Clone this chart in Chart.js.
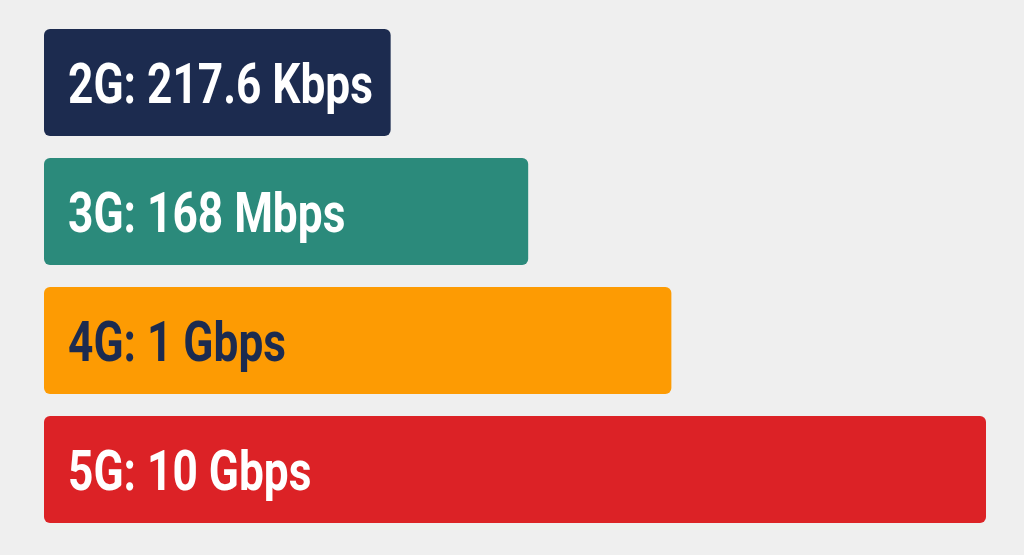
<!DOCTYPE html>
<html>
<head>
<meta charset="utf-8">
<script src="https://cdn.jsdelivr.net/npm/chart.js@4"></script>
<style>
  html, body { margin: 0; padding: 0; background: #efefef; }
  #wrap { width: 1024px; height: 555px; }
</style>
</head>
<body>
<div id="wrap"><canvas id="chart"></canvas></div>
<script>
// generations and their peak speed labels
const generations = ['2G', '3G', '4G', '5G'];
const speedLabels = ['217.6 Kbps', '168 Mbps', '1 Gbps', '10 Gbps'];
// bar length as drawn, relative to the 5G bar (= 100)
const barLengths = [36.8, 51.4, 66.6, 100];
const barColors = ['#1c2b4f', '#2b8a7b', '#fd9b03', '#dc2226'];
const textColors = ['#ffffff', '#ffffff', '#1c2b4f', '#ffffff'];

// writes "2G: 217.6 Kbps" inside each bar, narrow bold look
const insideLabels = {
  id: 'insideLabels',
  afterDatasetsDraw(chart) {
    const ctx = chart.ctx;
    const meta = chart.getDatasetMeta(0);
    meta.data.forEach((bar, i) => {
      const txt = generations[i] + ': ' + speedLabels[i];
      ctx.save();
      ctx.font = 'bold 56px Roboto';
      ctx.fillStyle = textColors[i];
      ctx.textBaseline = 'alphabetic';
      ctx.translate(bar.base + 24, bar.y + 20);
      ctx.scale(0.79, 1);
      ctx.fillText(txt, 0, 0);
      ctx.restore();
    });
  }
};

new Chart(document.getElementById('chart'), {
  type: 'bar',
  data: {
    labels: generations,
    datasets: [{
      data: barLengths,
      backgroundColor: barColors,
      borderRadius: 6,
      borderSkipped: false,
      barPercentage: 0.83,
      categoryPercentage: 1
    }]
  },
  options: {
    indexAxis: 'y',
    responsive: true,
    maintainAspectRatio: false,
    animation: false,
    layout: { padding: { left: 44, right: 38, top: 18, bottom: 21 } },
    scales: {
      x: { display: false, min: 0, max: 100 },
      y: { display: false }
    },
    plugins: {
      legend: { display: false },
      tooltip: { enabled: false }
    }
  },
  plugins: [insideLabels]
});
</script>
</body>
</html>
